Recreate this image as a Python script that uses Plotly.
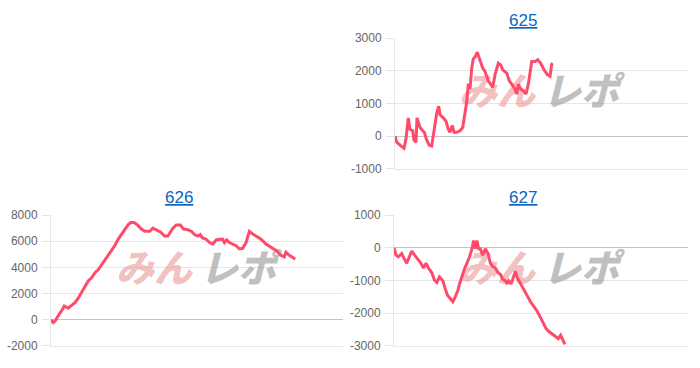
import plotly.graph_objects as go

W, H = 700, 368

# ---- data (game count, difference in medals) ----
games_625 = [0, 58, 228, 306, 374, 452, 510, 602, 646, 714, 748, 850, 942, 996, 1078,
             1166, 1248, 1336, 1418, 1486, 1530, 1642, 1734, 1812, 1870, 1948, 2006, 2098,
             2210, 2302, 2380, 2438, 2492, 2550, 2608, 2662, 2720, 2798, 2890, 2982, 3060,
             3172, 3254, 3322, 3400, 3512, 3594, 3662, 3798, 3886, 3968, 4080, 4138, 4192,
             4274, 4362, 4454, 4532, 4648, 4760, 4852, 4954, 5066, 5178, 5270, 5328, 5362]
diff_625 = [0, -180, -320, -370, -80, 560, 210, 165, -120, -180, 560, 265, 165, 120, -120,
            -275, -300, 165, 700, 920, 655, 560, 460, 215, 120, 330, 120, 120,
            165, 265, 700, 1050, 1600, 1450, 2080, 2370, 2420, 2570, 2320, 2080, 1980,
            1690, 1590, 1490, 1880, 2230, 2180, 2030, 1930, 1690, 1590, 1440, 1290, 1590,
            1440, 1390, 1290, 1590, 2280, 2280, 2340, 2230, 2030, 1880, 1830, 2200, 2230]

games_626 = [0, 78, 136, 228, 306, 384, 452, 534, 588, 704, 816, 928, 1044, 1156, 1268,
             1384, 1496, 1608, 1724, 1836, 1948, 2064, 2176, 2288, 2404, 2516, 2628, 2720,
             2832, 2948, 3084, 3196, 3366, 3478, 3594, 3740, 3876, 3988, 4158, 4274, 4410,
             4522, 4668, 4784, 4896, 5008, 5090, 5158, 5294, 5406, 5518, 5634, 5746, 5858,
             5916, 5994, 6086, 6198, 6314, 6426, 6538, 6654, 6766, 6858, 6994, 7164, 7334,
             7504, 7674, 7844, 7956, 8014, 8126, 8262, 8330]
diff_626 = [0, -220, -100, 265, 510, 760, 1050, 950, 880, 1100, 1300, 1650, 2080, 2470, 2960,
            3200, 3570, 3820, 4190, 4560, 4930, 5290, 5660, 6150, 6510, 6880, 7250, 7430,
            7430, 7250, 6930, 6760, 6760, 7000, 6880, 6690, 6400, 6400, 7000, 7250, 7250,
            6930, 6880, 6760, 6510, 6400, 6510, 6270, 6150, 5900, 5780, 6100, 6150, 6150,
            5900, 6100, 5900, 5780, 5660, 5410, 5460, 5900, 6760, 6590, 6400, 6150, 5780,
            5540, 5290, 4930, 4800, 5170, 4930, 4730, 4630]

games_627 = [0, 68, 146, 262, 340, 432, 520, 602, 680, 792, 908, 996, 1088, 1166, 1282,
             1370, 1452, 1540, 1656, 1734, 1812, 1904, 1996, 2074, 2166, 2220, 2302, 2380,
             2472, 2560, 2642, 2696, 2754, 2812, 2866, 2924, 3002, 3094, 3186, 3264, 3342,
             3434, 3526, 3604, 3682, 3774, 3832, 3886, 3968, 4022, 4090, 4114, 4172, 4284,
             4396, 4512, 4624, 4736, 4852, 4964, 5076, 5158, 5270, 5382, 5474, 5566, 5644,
             5722, 5790]
diff_627 = [0, -225, -275, -175, -325, -470, -275, -105, -205, -340, -470, -620, -470, -620, -765,
            -990, -1060, -890, -1010, -1250, -1450, -1550, -1650, -1500, -1300, -1105, -860, -665,
            -470, -275, -30, 220, -30, 220, -30, -30, -225, -30, -175, -470, -570,
            -620, -765, -810, -960, -1010, -1105, -1010, -1105, -960, -810, -715, -910, -1105,
            -1300, -1500, -1650, -1795, -1940, -2135, -2330, -2480, -2575, -2655, -2725, -2775, -2675,
            -2825, -2950]

titles = ["625", "626", "627"]
y_ticks_625 = [-1000, 0, 1000, 2000, 3000]
y_ticks_626 = [-2000, 0, 2000, 4000, 6000, 8000]
y_ticks_627 = [-3000, -2000, -1000, 0, 1000]
X_MAX = 9960

series = [(games_625, diff_625), (games_626, diff_626), (games_627, diff_627)]
y_ticks = [y_ticks_625, y_ticks_626, y_ticks_627]

# ---- styling / geometry (pixels) ----
LINE = "#ff4b6b"
GRID = "#e6e6e6"
ZERO = "#c4c4c4"
FONT = "Liberation Sans, Arial, sans-serif"
boxes = [(395, 688, 32.3, 168.3), (51, 343, 216.3, 352.3), (394, 688, 216.3, 352.3)]
title_pos = [(523, 14), (179, 198), (523, 198)]
wm_pos = [(497, 581, 92), (154, 238, 276), (497, 581, 276)]

fig = go.Figure()
layout = dict(width=W, height=H, margin=dict(l=0, r=0, t=0, b=0),
              paper_bgcolor="white", plot_bgcolor="white", showlegend=False,
              annotations=[])

for i in range(3):
    k = "" if i == 0 else str(i + 1)
    left, right, top, bottom = boxes[i]
    tv = y_ticks[i]
    y0, y1 = min(tv), max(tv)

    def to_data(px, py):
        return ((px - left) / (right - left) * X_MAX,
                y1 - (py - top) / (bottom - top) * (y1 - y0))

    # watermark (behind the line)
    pxa, pxb, pyc = wm_pos[i]
    for txt, px, col in [("みん", pxa, "rgba(232,140,140,0.55)"), ("レポ", pxb, "rgba(150,150,150,0.6)")]:
        dx, dy = to_data(px, pyc)
        fig.add_trace(go.Scatter(x=[dx], y=[dy], mode="text", text=[txt],
                                 textposition="middle center", cliponaxis=False,
                                 textfont=dict(family="Noto Sans CJK JP", size=38, color=col,
                                               weight=900, style="italic"),
                                 hoverinfo="skip", xaxis="x" + k, yaxis="y" + k))

    gx, dv = series[i]
    fig.add_trace(go.Scatter(x=gx, y=dv, mode="lines",
                             line=dict(color=LINE, width=3, shape="linear"),
                             xaxis="x" + k, yaxis="y" + k, hoverinfo="skip"))

    layout["xaxis" + k] = dict(domain=[left / W, right / W], anchor="y" + k,
                               range=[0, X_MAX], showticklabels=False, showgrid=False,
                               zeroline=False, showline=True, linecolor=GRID, linewidth=1,
                               ticks="", fixedrange=True)
    layout["yaxis" + k] = dict(domain=[1 - bottom / H, 1 - top / H], anchor="x" + k,
                               range=[y0, y1], tickmode="array", tickvals=tv,
                               ticktext=[str(v) for v in tv],
                               showgrid=True, gridcolor=GRID, gridwidth=1,
                               zeroline=True, zerolinecolor=ZERO, zerolinewidth=1,
                               showline=True, linecolor=GRID, linewidth=1,
                               ticks="outside", ticklen=8, tickcolor=GRID, tickwidth=1,
                               ticklabelstandoff=2,
                               tickfont=dict(family=FONT, size=12, color="#666666"),
                               fixedrange=True)

    tx, ty = title_pos[i]
    layout["annotations"].append(dict(text="<u>" + titles[i] + "</u>", x=tx / W, y=1 - ty / H,
                                      xref="paper", yref="paper", xanchor="center",
                                      yanchor="middle", showarrow=False,
                                      font=dict(family=FONT, size=17, color="#0a66c2")))

fig.update_layout(**layout)
fig.write_html("out.html")
